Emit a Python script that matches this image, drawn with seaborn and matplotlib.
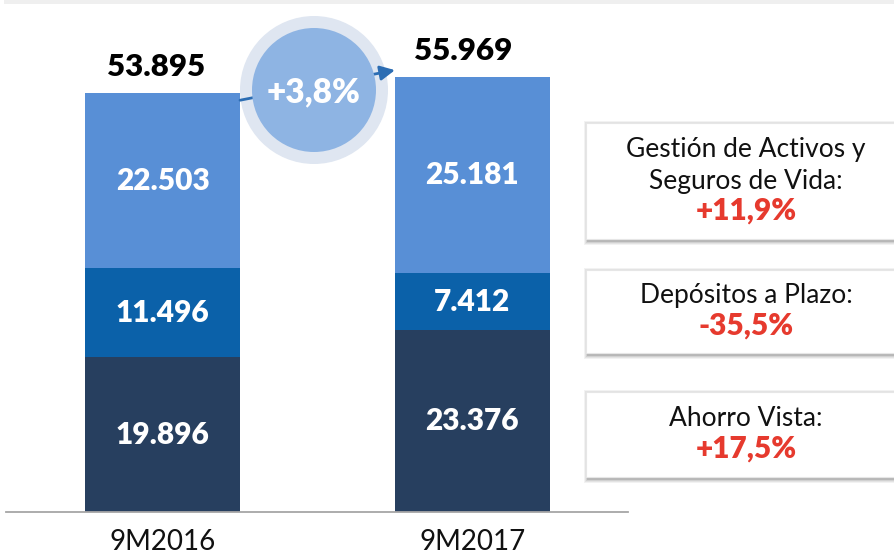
import matplotlib
matplotlib.use("Agg")
import matplotlib.pyplot as plt
import seaborn as sns
import pandas as pd
from matplotlib.patches import Circle, Rectangle

# ---- data ----
periods = ["9M2016", "9M2017"]
ahorro_vista = [19.896, 23.376]
depositos_plazo = [11.496, 7.412]
gestion_activos = [22.503, 25.181]
box_titles = [["Gestión de Activos y", "Seguros de Vida:"], ["Depósitos a Plazo:"], ["Ahorro Vista:"]]

c_top = "#588fd6"
c_mid = "#0b61a9"
c_bot = "#273f5f"

sns.set_theme(style="white")
plt.rcParams["font.family"] = ["Lato", "DejaVu Sans"]

W, H = 895, 557
fig = plt.figure(figsize=(W / 100, H / 100), dpi=100)
base_px, top_px = 512, 20
ax = fig.add_axes([6 / W, (H - base_px) / H, (628 - 6) / W, (base_px - top_px) / H])

df = pd.DataFrame({"period": periods, "av": ahorro_vista, "dp": depositos_plazo, "ga": gestion_activos})
df["cum2"] = df["av"] + df["dp"]
df["total"] = df["cum2"] + df["ga"]

for col, c in [("total", c_top), ("cum2", c_mid), ("av", c_bot)]:
    sns.barplot(data=df, x="period", y=col, color=c, width=0.5, saturation=1, ax=ax,
                order=periods, linewidth=0, edgecolor="none")

px_per_unit = 7.77
ax.set_xlim(-0.505, 1.502)
ax.set_ylim(0, (base_px - top_px) / px_per_unit)
ax.set_xlabel("")
ax.set_ylabel("")
ax.set_yticks([])
for s in ["top", "left", "right"]:
    ax.spines[s].set_visible(False)
ax.spines["bottom"].set_color("#a6a6a6")
ax.spines["bottom"].set_linewidth(1.3)
ax.tick_params(axis="x", length=0, pad=12, labelsize=20, labelcolor="#111111")
ax.patch.set_alpha(0)

def fmt(v):
    return f"{v:.3f}"

for i in range(len(periods)):
    av, dp, ga = df.loc[i, "av"], df.loc[i, "dp"], df.loc[i, "ga"]
    for y, v in [(av / 2, av), (av + dp / 2, dp), (av + dp + ga / 2, ga)]:
        ax.text(i, y, fmt(v), ha="center", va="center", color="white",
                fontsize=21.5, fontweight="heavy")
    ax.annotate(fmt(df.loc[i, "total"]), xy=(i, df.loc[i, "total"]), xytext=(-5 if i == 0 else -7, 9),
                textcoords="offset points", ha="center", va="bottom",
                fontsize=22.5, fontweight="heavy", color="black")

# overlay in pixel coords
ov = fig.add_axes([0, 0, 1, 1])
ov.set_xlim(0, W)
ov.set_ylim(H, 0)
ov.axis("off")
ov.patch.set_alpha(0)

ov.add_patch(Rectangle((4, 0), W - 4, 4, color="#efefef", lw=0))

# growth arrow from top of bar 1 to top of bar 2 (positions from the bar axes)
fig.canvas.draw()
to_ov = ax.transData + ov.transData.inverted()
p0 = to_ov.transform((0.25, df.loc[0, "total"] - 0.9))
p1 = to_ov.transform((0.75, df.loc[1, "total"] + 0.9))

cx, cy = 314, 90
ov.add_patch(Circle((cx, cy), 74, color="#dfe6f1", lw=0, zorder=1))
ov.annotate("", xy=tuple(p1), xytext=tuple(p0),
            arrowprops=dict(arrowstyle="-|>", color="#2c6db3", lw=2,
                            mutation_scale=22, shrinkA=0, shrinkB=0), zorder=2)
ov.add_patch(Circle((cx, cy), 62, color="#8eb4e3", lw=0, zorder=3))
total_growth = (df.loc[1, "total"] / df.loc[0, "total"] - 1) * 100
ov.text(cx, cy + 2, f"+{total_growth:.1f}%".replace(".", ","), ha="center", va="center",
        color="white", fontsize=24, fontweight="heavy", zorder=4)

def pct(a, b):
    g = (b / a - 1) * 100
    return f"{g:+.1f}%".replace(".", ",")

growths = [pct(gestion_activos[0], gestion_activos[1]),
           pct(depositos_plazo[0], depositos_plazo[1]),
           pct(ahorro_vista[0], ahorro_vista[1])]
boxes = [(123, 239), (270, 353), (392, 477)]
bx0, bx1 = 586, 900
for (y0, y1), titles, g in zip(boxes, box_titles, growths):
    for k, a in enumerate([0.05, 0.06, 0.08, 0.12]):
        e = 4 - k
        ov.add_patch(Rectangle((bx0 - e + 2, y0 - e + 2), bx1 - bx0 + 2 * e, y1 - y0 + 2 * e,
                               color="black", alpha=a, lw=0))
    ov.add_patch(Rectangle((bx0, y0), bx1 - bx0, y1 - y0, facecolor="white", edgecolor="#e6e6e6", lw=0.8))
    xc = 746
    n = len(titles)
    line_h = 32
    ytop = (y0 + y1) / 2 - n * line_h / 2
    for k, t in enumerate(titles):
        ov.text(xc, ytop + k * line_h, t, ha="center", va="center", fontsize=19, color="#111111")
    ov.text(xc, ytop + n * line_h - 2, g, ha="center", va="center", fontsize=21.5,
            fontweight="heavy", color="#e63a2e")

fig.savefig("out.png", dpi=100)
